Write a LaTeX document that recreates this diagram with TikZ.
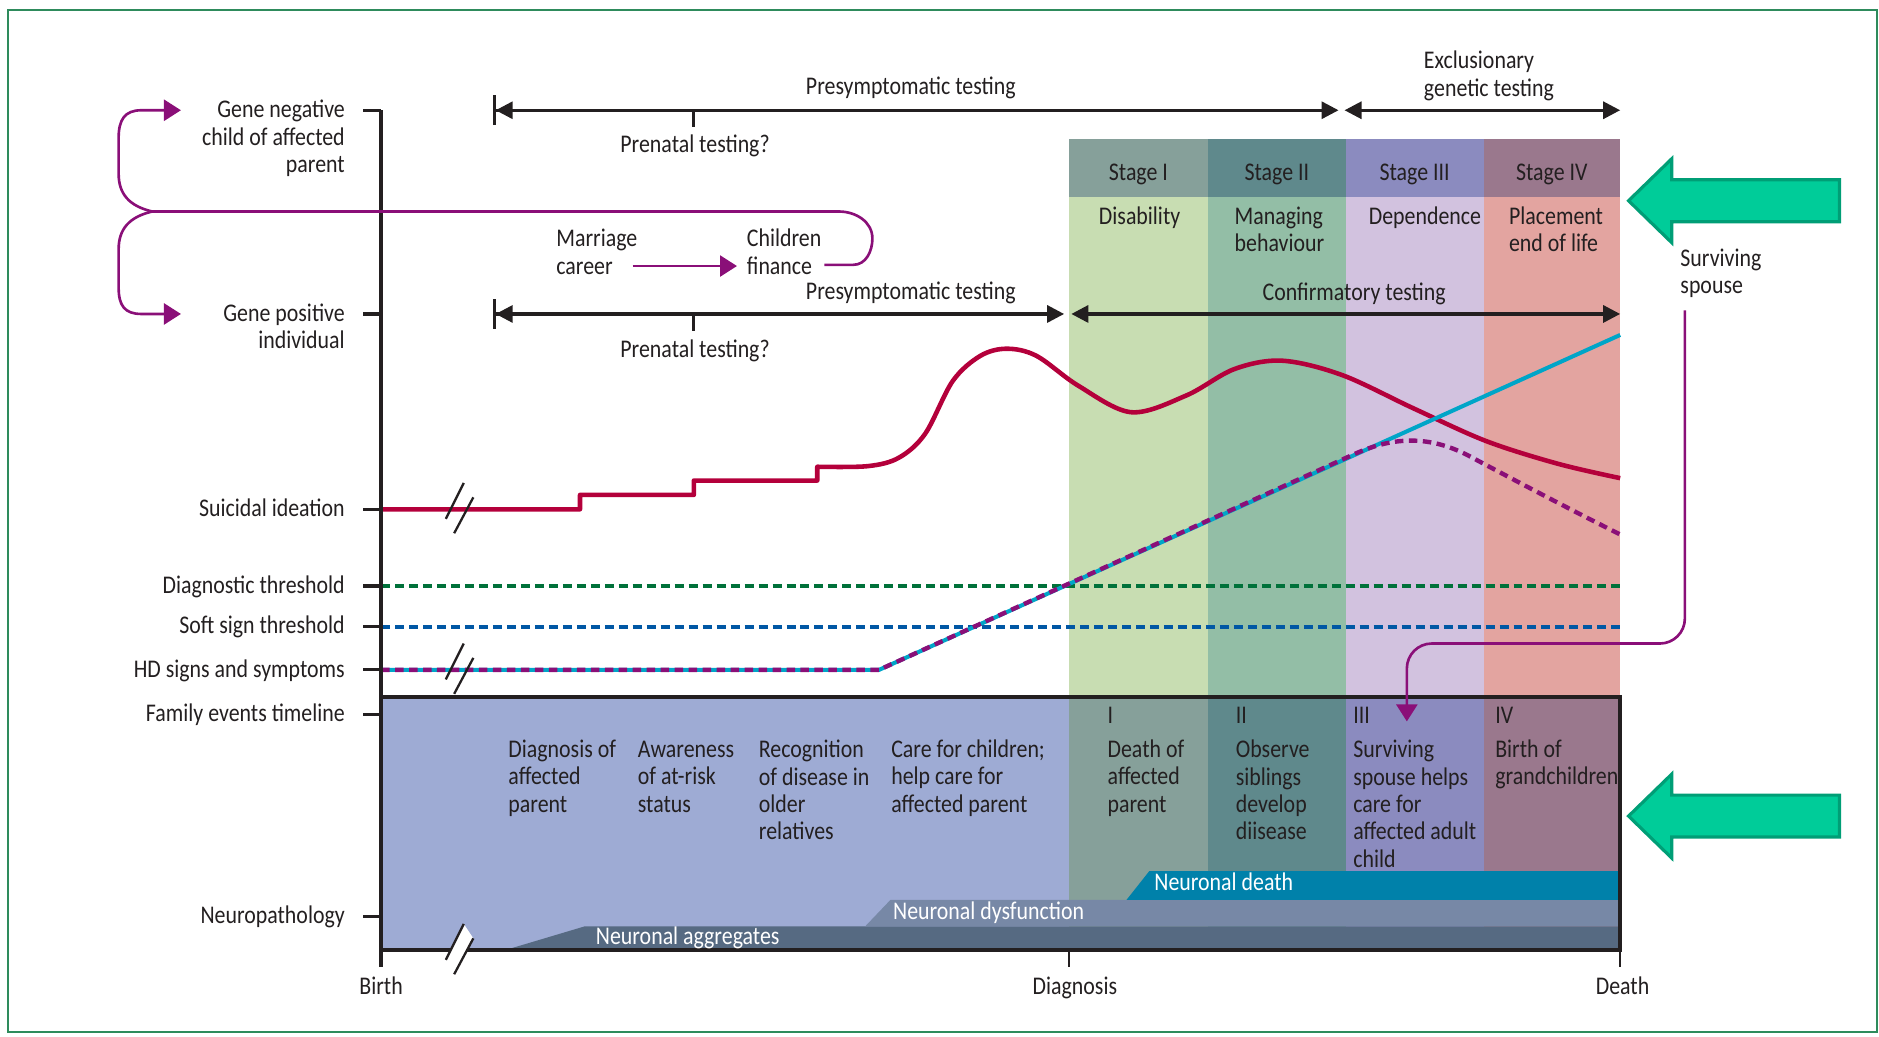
\documentclass[tikz,border=0pt]{standalone}
\usepackage{fontspec}
\setmainfont[FakeStretch=0.86]{Carlito}
\usetikzlibrary{arrows.meta}
\definecolor{ink}{HTML}{231F20}
\definecolor{frame}{HTML}{2E8B5C}
\definecolor{stIh}{HTML}{86A09A}
\definecolor{stIb}{HTML}{C8DDB2}
\definecolor{stIIh}{HTML}{5F898C}
\definecolor{stIIb}{HTML}{93BEA6}
\definecolor{stIIIh}{HTML}{8B8BBF}
\definecolor{stIIIb}{HTML}{D2C2DF}
\definecolor{stIVh}{HTML}{9A788D}
\definecolor{stIVb}{HTML}{E3A4A0}
\definecolor{timebox}{HTML}{9EABD4}
\definecolor{aggr}{HTML}{566A82}
\definecolor{dysf}{HTML}{7788A6}
\definecolor{ndeath}{HTML}{0081AA}
\definecolor{hdred}{HTML}{B4003B}
\definecolor{hdcyan}{HTML}{00A5C8}
\definecolor{hdpurple}{HTML}{8A0F78}
\definecolor{diagreen}{HTML}{00713A}
\definecolor{softblue}{HTML}{0057A4}
\definecolor{famarrow}{HTML}{00CC99}
\definecolor{famedge}{HTML}{009E76}
\tikzset{
  txt/.style={font=\fontsize{14.5}{15.6}\selectfont,text=ink,inner sep=0pt},
  axlabel/.style={txt,anchor=base east,align=right},
  event/.style={txt,anchor=base west,align=left},
  neurotext/.style={txt,anchor=base west,text=white},
  testline/.style={draw=ink,line width=1.8pt},
  familyline/.style={draw=hdpurple,line width=1.5pt,>={Triangle[length=3.4mm,width=4.2mm]}},
  threshold/.style={line width=2.3pt,dash pattern=on 1.8mm off 1mm},
  breakmark/.style={draw=ink,line width=1.3pt},
  bigarrow/.style={fill=famarrow,draw=famedge,line width=1.8pt}
}
\begin{document}
\begin{tikzpicture}[>={Triangle[length=3.4mm,width=3.4mm]},x=0.24mm,y=-0.24mm]
\useasboundingbox (0,0) rectangle (1568,865);
\draw[frame,line width=1.1pt] (7,8.5) rectangle (1566,861.5);
% stages and family events box
\fill[timebox] (318,582) rectangle (892,793);
\foreach \xa/\xb/\hc/\bc/\st in {892/1008/stIh/stIb/I,1008/1123/stIIh/stIIb/II,1123/1238/stIIIh/stIIIb/III,1238/1352/stIVh/stIVb/IV}{
  \fill[\bc] (\xa,164) rectangle (\xb,582);
  \fill[\hc] (\xa,116) rectangle (\xb,164);
  \fill[\hc] (\xa,582) rectangle (\xb,793);
  \node[txt,anchor=base] (stage\st) at ({(\xa+\xb)/2},151) {Stage \st};
}
\fill[aggr] (421,793) -- (488,773) -- (1352,773) -- (1352,793) -- cycle;
\fill[dysf] (722,773) -- (743,751) -- (1352,751) -- (1352,773) -- cycle;
\fill[ndeath] (940,751) -- (959,727) -- (1352,727) -- (1352,751) -- cycle;
% thresholds and curves
\draw[threshold,diagreen] (318,489) -- (1352,489);
\draw[threshold,softblue] (318,523) -- (1352,523);
\draw[hdred,line width=2.6pt,line join=round] (318,425) -- (484,425) -- (484,413) -- (579,413) -- (579,401) -- (682,401) -- (682,389.5) -- plot[smooth,tension=0.55] coordinates{(682,389.5) (724,389) (750,382) (772,362) (795,318) (818,297) (840,291) (865,297) (900,322) (944,344) (990,330) (1030,308) (1070,301) (1120,313) (1180,341) (1240,368) (1300,387) (1352,399)};
\draw[hdcyan,line width=2.3pt] (318,559) -- (733.5,559) -- (1352,279.5);
\draw[hdpurple,line width=2.5pt,dash pattern=on 1.7mm off 1.1mm] (318,559) -- (733.5,559) -- (1130,379) .. controls (1160,365.5) and (1190,362) .. (1225,380) .. controls (1270,404) and (1310,425) .. (1352,446);
% axes
\draw[ink,line width=2.3pt] (318,582) -- (1352,582) -- (1352,793) -- (318,793);
\draw[ink,line width=1.8pt] (318,92) -- (318,807);
\foreach \ly in {92,262,425,489,523,559,596,765}
  \draw[ink,line width=1.8pt] (303,\ly) -- (318,\ly);
\draw[ink,line width=1pt] (892,793) -- (892,807) (1352,793) -- (1352,807);
\foreach \yb in {425,559}
  \draw[breakmark] (387,\yb-22) -- (372,\yb+8) (395,\yb-10) -- (379,\yb+20);
\fill[white] (387,771) -- (395,783) -- (379,813) -- (372,801) -- cycle;
\draw[breakmark] (387,771) -- (372,801) (395,783) -- (379,813);
\node[axlabel] (gneg) at (288,143.9) {Gene negative\\child of affected\\parent};
\node[axlabel] (gpos) at (288,290.9) {Gene positive\\individual};
\node[axlabel] (suicidal) at (288,431) {Suicidal ideation};
\node[axlabel] (diagthr) at (288,495) {Diagnostic threshold};
\node[axlabel] (softthr) at (288,529) {Soft sign threshold};
\node[axlabel] (hdsigns) at (288,565) {HD signs and symptoms};
\node[axlabel] (famtime) at (288,602) {Family events timeline};
\node[axlabel] (neuropath) at (288,771) {Neuropathology};
\node[txt,anchor=base] (birth) at (318,830) {Birth};
\node[txt,anchor=base] (diagnosis) at (897,830) {Diagnosis};
\node[txt,anchor=base] (death) at (1354,830) {Death};
% testing arrows
\coordinate (preA) at (411,92);
\coordinate (preB) at (1117,92);
\coordinate (exA) at (1122,92);
\coordinate (exB) at (1352,92);
\coordinate (posA) at (411,262);
\coordinate (posB) at (888,262);
\coordinate (confA) at (894,262);
\coordinate (confB) at (1352,262);
\draw[testline,{Bar[width=6mm]Triangle[length=3.4mm,width=3.4mm]}->] (preA) -- (preB);
\draw[testline,<->] (exA) -- (exB);
\draw[testline,{Bar[width=6mm]Triangle[length=3.4mm,width=3.4mm]}->] (posA) -- (posB);
\draw[testline,<->] (confA) -- (confB);
\draw[testline] (579,92) -- (579,106) (579,262) -- (579,276);
\node[txt,anchor=base] (presymA) at (760,79) {Presymptomatic testing};
\node[txt,anchor=base] (prenatA) at (580,127) {Prenatal testing?};
\node[event] (exclus) at (1188,80.4) {Exclusionary\\genetic testing};
\node[txt,anchor=base] (presymB) at (760,250) {Presymptomatic testing};
\node[txt,anchor=base] (prenatB) at (580,298) {Prenatal testing?};
\node[txt,anchor=base] (confirm) at (1130,251) {Confirmatory testing};
% stage contents
\node[txt,anchor=base] (disab) at (951,187) {Disability};
\node[event] (managing) at (1030,209.9) {Managing\\behaviour};
\node[event] (depend) at (1142,187) {Dependence};
\node[event] (placement) at (1259,209.9) {Placement\\end of life};
% family events
\node[event] (evA) at (424,677.9) {Diagnosis of\\affected\\parent};
\node[event] (evB) at (532,677.9) {Awareness\\of at-risk\\status};
\node[event] (evC) at (633,700.8) {Recognition\\of disease in\\older\\relatives};
\node[event] (evD) at (743.5,677.9) {Care for children;\\help care for\\affected parent};
\node[event] (numI) at (924,604) {I};
\node[event] (evE) at (924,677.9) {Death of\\affected\\parent};
\node[event] (numII) at (1031,604) {II};
\node[event] (evF) at (1031,700.8) {Observe\\siblings\\develop\\diisease};
\node[event] (numIII) at (1129,604) {III};
\node[event] (evG) at (1129,723.7) {Surviving\\spouse helps\\care for\\affected adult\\child};
\node[event] (numIV) at (1247.5,604) {IV};
\node[event] (evH) at (1247.5,654.9) {Birth of\\grandchildren};
\node[neurotext] (aggrtext) at (497,788) {Neuronal aggregates};
\node[neurotext] (dysftext) at (745,767) {Neuronal dysfunction};
\node[neurotext] (deathtext) at (963,743) {Neuronal death};
% family lines
\coordinate (fork) at (127,176.5);
\coordinate (negtip) at (151,92);
\coordinate (postip) at (151,262);
\draw[familyline,->] (fork) .. controls (108,172) and (99,162) .. (99,145) -- (99,115) .. controls (99,100) and (104,92) .. (118,92) -- (negtip);
\draw[familyline,->] (fork) .. controls (108,181) and (99,191) .. (99,208) -- (99,240) .. controls (99,255) and (104,262) .. (118,262) -- (postip);
\draw[familyline] (fork) -- (700,176.5) to[out=0,in=90] (728,199) to[out=-90,in=0] (712,221) -- (688,221);
\node[event] (marriage) at (464,228.9) {Marriage\\career};
\node[event] (children) at (623,228.9) {Children\\finance};
\coordinate (mcA) at (528,222);
\coordinate (mcB) at (615,222);
\draw[familyline,->] (mcA) -- (mcB);
\node[event] (spouse) at (1402,244.9) {Surviving\\spouse};
\coordinate (spA) at (1406,259);
\coordinate (spB) at (1174,602);
\draw[familyline,->,rounded corners=5mm] (spA) -- (1406,537) -- (1174,537) -- (spB);
% pointers
\foreach \yc in {167.5,681}
  \draw[bigarrow] (1359,\yc) -- (1395,\yc-35) -- (1395,\yc-17.5) -- (1535,\yc-17.5) -- (1535,\yc+17.5) -- (1395,\yc+17.5) -- (1395,\yc+35) -- cycle;
\end{tikzpicture}
\end{document}
